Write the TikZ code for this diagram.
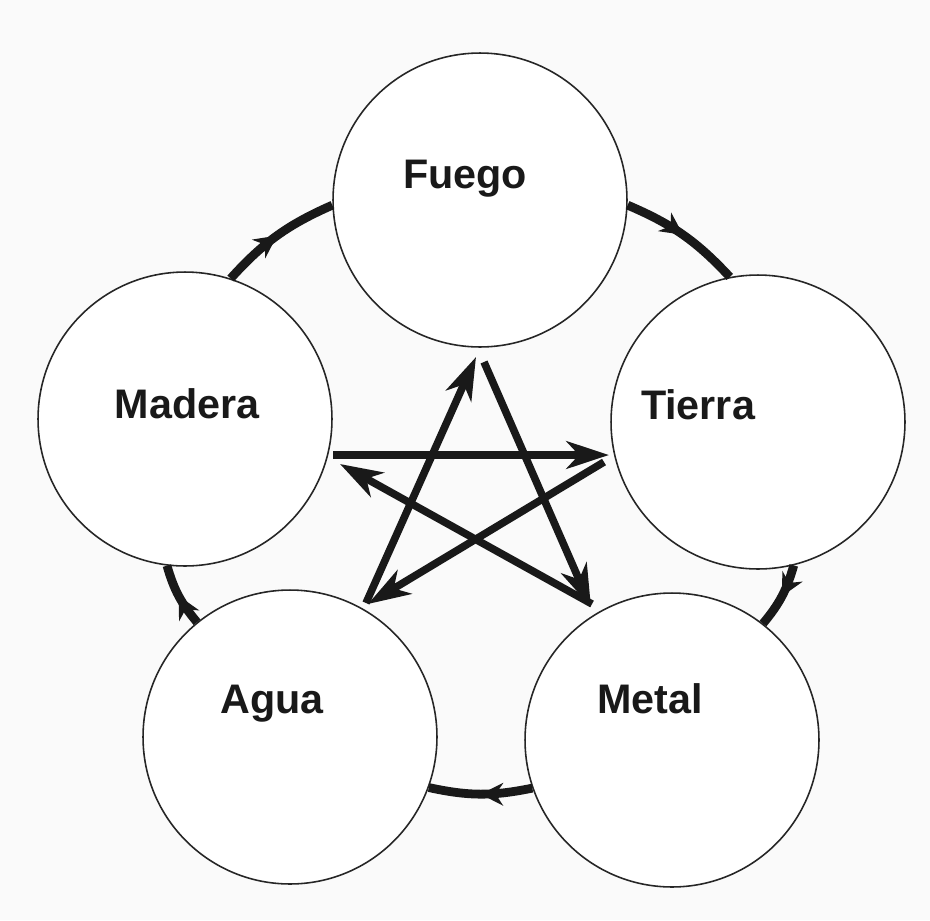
\documentclass[tikz,border=0pt]{standalone}
\usepackage{fontspec}
\setmainfont{Liberation Sans}
\usetikzlibrary{arrows.meta,decorations.markings}
\begin{document}
\begin{tikzpicture}[x=0.02cm,y=-0.02cm,
  elem/.style={circle,draw=black!85,line width=0.9pt,fill=white,minimum size=5.88cm,inner sep=0pt},
  lbl/.style={font=\bfseries\fontsize{23.5}{26}\selectfont,inner sep=0pt,anchor=base,text=black!90},
  cyc/.style={line width=5pt,draw=black!90,bend left=12,postaction={decorate},
    decoration={markings,mark=at position 0.5 with {\arrow[black!90]{Stealth[length=0.45cm,width=0.45cm]}}}},
  starline/.style={line width=4.3pt,draw=black!90,-{Stealth[length=0.85cm,width=0.55cm,inset=0.25cm]}}]
\useasboundingbox[fill=gray!4] (0,0) rectangle (930,920);
% element circles
\node[elem] (fuego)  at (480,200) {};
\node[elem] (madera) at (185,419) {};
\node[elem] (tierra) at (758,422) {};
\node[elem] (agua)   at (290,737) {};
\node[elem] (metal)  at (672,740) {};
% labels
\node[lbl] (tfuego)  at (465,188) {Fuego};
\node[lbl] (tmadera) at (187,418) {Madera};
\node[lbl] (ttierra) at (698,419) {Tierra};
\node[lbl] (tagua)   at (272,713) {Agua};
\node[lbl] (tmetal)  at (650,713) {Metal};
% generating cycle
\draw[cyc] (madera.72) to (fuego.182);
\draw[cyc] (fuego.-2) to (tierra.101);
\draw[cyc] (tierra.-76) to (metal.52);
\draw[cyc] (metal.199) to (agua.-20);
\draw[cyc] (agua.129) to (madera.263);
% star coordinates
\coordinate (aF1) at (366,603);  \coordinate (aF2) at (476,357);
\coordinate (fM1) at (484,362);  \coordinate (fM2) at (591,607);
\coordinate (mM1) at (592,604);  \coordinate (mM2) at (340,464);
\coordinate (mT1) at (333,455);  \coordinate (mT2) at (609,455);
\coordinate (tA1) at (604,462);  \coordinate (tA2) at (368,604);
% control cycle (star)
\draw[starline] (aF1) -- (aF2);
\draw[starline] (fM1) -- (fM2);
\draw[starline] (mM1) -- (mM2);
\draw[starline] (mT1) -- (mT2);
\draw[starline] (tA1) -- (tA2);
\end{tikzpicture}
\end{document}
